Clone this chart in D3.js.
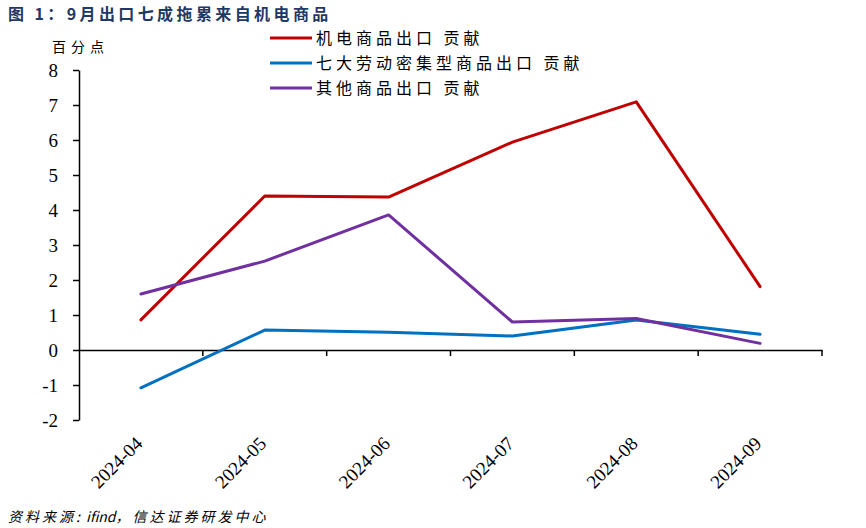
<!DOCTYPE html>
<html><head><meta charset="utf-8">
<script src="https://cdn.jsdelivr.net/npm/d3@7"></script>
<style>body{margin:0;background:#fff}svg{display:block}</style>
</head><body>
<svg id="c" width="866" height="528"></svg>
<script>
const categories = ["2024-04","2024-05","2024-06","2024-07","2024-08","2024-09"];
const seriesNames = ["机电商品出口 贡献","七大劳动密集型商品出口 贡献","其他商品出口 贡献"];
const electro = [0.86, 4.40, 4.37, 5.94, 7.09, 1.81];
const labour = [-1.08, 0.57, 0.51, 0.40, 0.86, 0.45];
const other = [1.60, 2.54, 3.86, 0.80, 0.90, 0.19];
const colors = ["#C00000","#0070C0","#7030A0"];
const yTicks = [-2,-1,0,1,2,3,4,5,6,7,8];
const title = "图 1：9月出口七成拖累来自机电商品";
const unit = "百分点";
const sourceParts = ["资料来源:", " ifind", "，信达证券研发中心"];

const svg = d3.select("#c");
const x = d3.scaleBand().domain(categories).range([79, 822]).paddingInner(0).paddingOuter(0);
const y = d3.scaleLinear().domain([-2, 8]).range([420, 70]);
const cjk = "'Noto Sans CJK SC', sans-serif";
const serif = "'Liberation Serif', 'Times New Roman', serif";

svg.append("text").attr("x", 8).attr("y", 20).text(title)
  .attr("font-family", cjk).attr("font-weight", "bold")
  .attr("font-size", 16).attr("letter-spacing", 3.4).attr("fill", "#1F3864");

svg.append("text").attr("x", 52).attr("y", 52).text(unit)
  .attr("font-family", cjk).attr("font-size", 14).attr("letter-spacing", 5).attr("fill", "#000");

// y axis
const ya = svg.append("g").attr("transform", "translate(79,0)")
  .call(d3.axisLeft(y).tickValues(yTicks).tickSize(6).tickSizeOuter(0).tickFormat(d => String(d)));
ya.select(".domain").attr("stroke", "#000").attr("stroke-width", 1.5);
ya.selectAll(".tick line").attr("stroke", "#000").attr("stroke-width", 1.5);
ya.selectAll(".tick text").attr("font-family", serif).attr("font-size", 19)
  .attr("fill", "#000").attr("x", -21);

// x axis at zero
const xa = svg.append("g").attr("transform", `translate(0,${y(0)})`)
  .call(d3.axisBottom(x).tickSize(0).tickFormat(""));
xa.select(".domain").attr("stroke", "#000").attr("stroke-width", 1.5);
xa.selectAll(".tick").remove();
const bounds = [...categories.map(c => x(c)), x.range()[1]];
svg.append("g").selectAll("line").data(bounds.slice(1)).join("line")
  .attr("x1", d => d).attr("x2", d => d).attr("y1", y(0)).attr("y2", y(0) + 6)
  .attr("stroke", "#000").attr("stroke-width", 1.5);

// x labels (low position)
svg.append("g").selectAll("text").data(categories).join("text")
  .attr("transform", d => `translate(${x(d) + x.bandwidth() / 2 - 2},${440}) rotate(-45)`)
  .attr("text-anchor", "end").attr("dy", "0.35em")
  .attr("font-family", serif).attr("font-size", 19).attr("fill", "#000")
  .text(d => d);

// lines
const data = [electro, labour, other];
const line = d3.line().x((d, i) => x(categories[i]) + x.bandwidth() / 2).y(d => y(d));
svg.append("g").selectAll("path").data(data).join("path")
  .attr("d", d => line(d)).attr("fill", "none")
  .attr("stroke", (d, i) => colors[i]).attr("stroke-width", 3)
  .attr("stroke-linejoin", "round").attr("stroke-linecap", "round");

// legend
const lg = svg.append("g").selectAll("g").data(seriesNames).join("g")
  .attr("transform", (d, i) => `translate(270,${38 + i * 25})`);
lg.append("line").attr("x1", 0).attr("x2", 42).attr("y1", 0).attr("y2", 0)
  .attr("stroke", (d, i) => colors[i]).attr("stroke-width", 3);
lg.append("text").attr("x", 46).attr("dy", "0.35em").text(d => d)
  .attr("font-family", cjk).attr("font-size", 16).attr("letter-spacing", 4).attr("fill", "#000");

const src = svg.append("text").attr("x", 8).attr("y", 522)
  .attr("font-family", cjk).attr("font-style", "italic")
  .attr("font-size", 14).attr("fill", "#000");
src.selectAll("tspan").data(sourceParts).join("tspan")
  .attr("letter-spacing", (d, i) => i === 1 ? 0 : 3)
  .text(d => d);
</script>
</body></html>
